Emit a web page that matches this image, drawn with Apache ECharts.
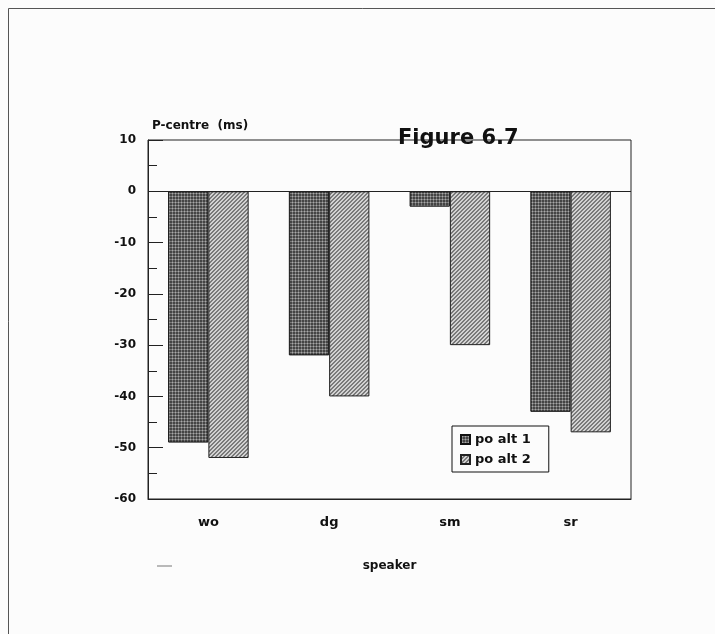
<!DOCTYPE html>
<html>
<head>
<meta charset="utf-8">
<script src="https://cdn.jsdelivr.net/npm/echarts@6/dist/echarts.min.js"></script>
<style>
  html, body { margin: 0; padding: 0; background: #fcfcfc; }
  #chart { width: 715px; height: 634px; }
</style>
</head>
<body>
<div id="chart"></div>
<script>
// ---- data ----
const categories = ['wo', 'dg', 'sm', 'sr'];
const seriesNames = ['po alt 1', 'po alt 2'];
const poAlt1 = [-49, -32, -3, -43];
const poAlt2 = [-52, -40, -30, -47];
const yTicks = [-60, -50, -40, -30, -20, -10, 0, 10];

// ---- fill patterns (scanned hatch look) ----
function makePattern(size, bg, layers) {
  const c = document.createElement('canvas');
  c.width = size; c.height = size;
  const ctx = c.getContext('2d');
  ctx.fillStyle = bg; ctx.fillRect(0, 0, size, size);
  layers.forEach(l => {
    ctx.fillStyle = l.color;
    l.px.forEach(p => ctx.fillRect(p[0], p[1], 1, 1));
  });
  return c;
}
const pat1 = makePattern(3, '#444444', [
  { color: '#777777', px: [[0, 1], [1, 0], [2, 1], [1, 2]] },
  { color: '#a8a8a8', px: [[1, 1]] }
]);
const pat2 = makePattern(4, '#d2d2d2', [
  { color: '#7a7a7a', px: [[3, 0], [2, 1], [1, 2], [0, 3], [0, 0], [3, 1], [2, 2], [1, 3]] }
]);

const FONT = '"DejaVu Sans", "Liberation Sans", Arial, sans-serif';

const chart = echarts.init(document.getElementById('chart'));
chart.setOption({
  backgroundColor: '#fcfcfc',
  animation: false,
  title: {
    text: 'Figure 6.7',
    left: 393, top: 123,
    textStyle: { fontFamily: FONT, fontWeight: 'bold', fontSize: 21, color: '#111' }
  },
  grid: {
    left: 148, top: 140, width: 483, height: 359,
    show: true, borderColor: '#222', borderWidth: 1, backgroundColor: 'transparent'
  },
  legend: {
    orient: 'vertical',
    left: 452, top: 426,
    data: seriesNames,
    itemWidth: 9, itemHeight: 9, itemGap: 7,
    icon: 'rect',
    padding: [7, 18, 6, 8],
    borderColor: '#111', borderWidth: 1,
    backgroundColor: '#fcfcfc',
    textStyle: { fontFamily: FONT, fontWeight: 'bold', fontSize: 13, color: '#111' }
  },
  xAxis: {
    type: 'category',
    data: categories,
    name: 'speaker',
    nameLocation: 'middle',
    nameGap: 61,
    nameTextStyle: { fontFamily: FONT, fontWeight: 'bold', fontSize: 12, color: '#111' },
    axisLine: { onZero: false, lineStyle: { color: '#222', width: 1 } },
    axisTick: { alignWithLabel: true, inside: true, length: 11, lineStyle: { color: '#222' } },
    axisLabel: { margin: 17, fontFamily: FONT, fontWeight: 'bold', fontSize: 13, color: '#111' }
  },
  yAxis: {
    type: 'value',
    min: -60, max: 10, interval: 10,
    name: 'P-centre  (ms)',
    nameLocation: 'end',
    nameGap: 8,
    nameTextStyle: { fontFamily: FONT, fontWeight: 'bold', fontSize: 12, color: '#111', align: 'left', padding: [0, 0, 0, 4] },
    axisLine: { show: true, lineStyle: { color: '#222', width: 1 } },
    axisTick: { show: true, inside: true, length: 15, lineStyle: { color: '#222' } },
    minorTick: { show: true, splitNumber: 2, length: 9, lineStyle: { color: '#222' } },
    splitLine: { show: false },
    axisLabel: {
      margin: 12, fontFamily: FONT, fontWeight: 'bold', fontSize: 12, color: '#111',
      formatter: v => (yTicks.indexOf(v) >= 0 ? String(v) : '')
    }
  },
  series: [
    {
      name: seriesNames[0],
      type: 'bar',
      data: poAlt1,
      barGap: '0%',
      barCategoryGap: '33.3%',
      itemStyle: { color: { image: pat1, repeat: 'repeat' }, borderColor: '#111', borderWidth: 1 },
      markLine: {
        silent: true, symbol: 'none', label: { show: false },
        lineStyle: { color: '#222', width: 1.2, type: 'solid' },
        data: [{ yAxis: 0 }]
      }
    },
    {
      name: seriesNames[1],
      type: 'bar',
      data: poAlt2,
      itemStyle: { color: { image: pat2, repeat: 'repeat' }, borderColor: '#222', borderWidth: 1 }
    }
  ],
  graphic: [
    {
      type: 'rect',
      shape: { x: 8.5, y: 8.5, width: 760, height: 700 },
      style: { fill: 'none', stroke: '#555', lineWidth: 1 },
      silent: true
    },
    {
      type: 'line',
      shape: { x1: 157, y1: 566, x2: 172, y2: 566 },
      style: { stroke: '#777', lineWidth: 1 },
      silent: true
    }
  ]
});
</script>
</body>
</html>
